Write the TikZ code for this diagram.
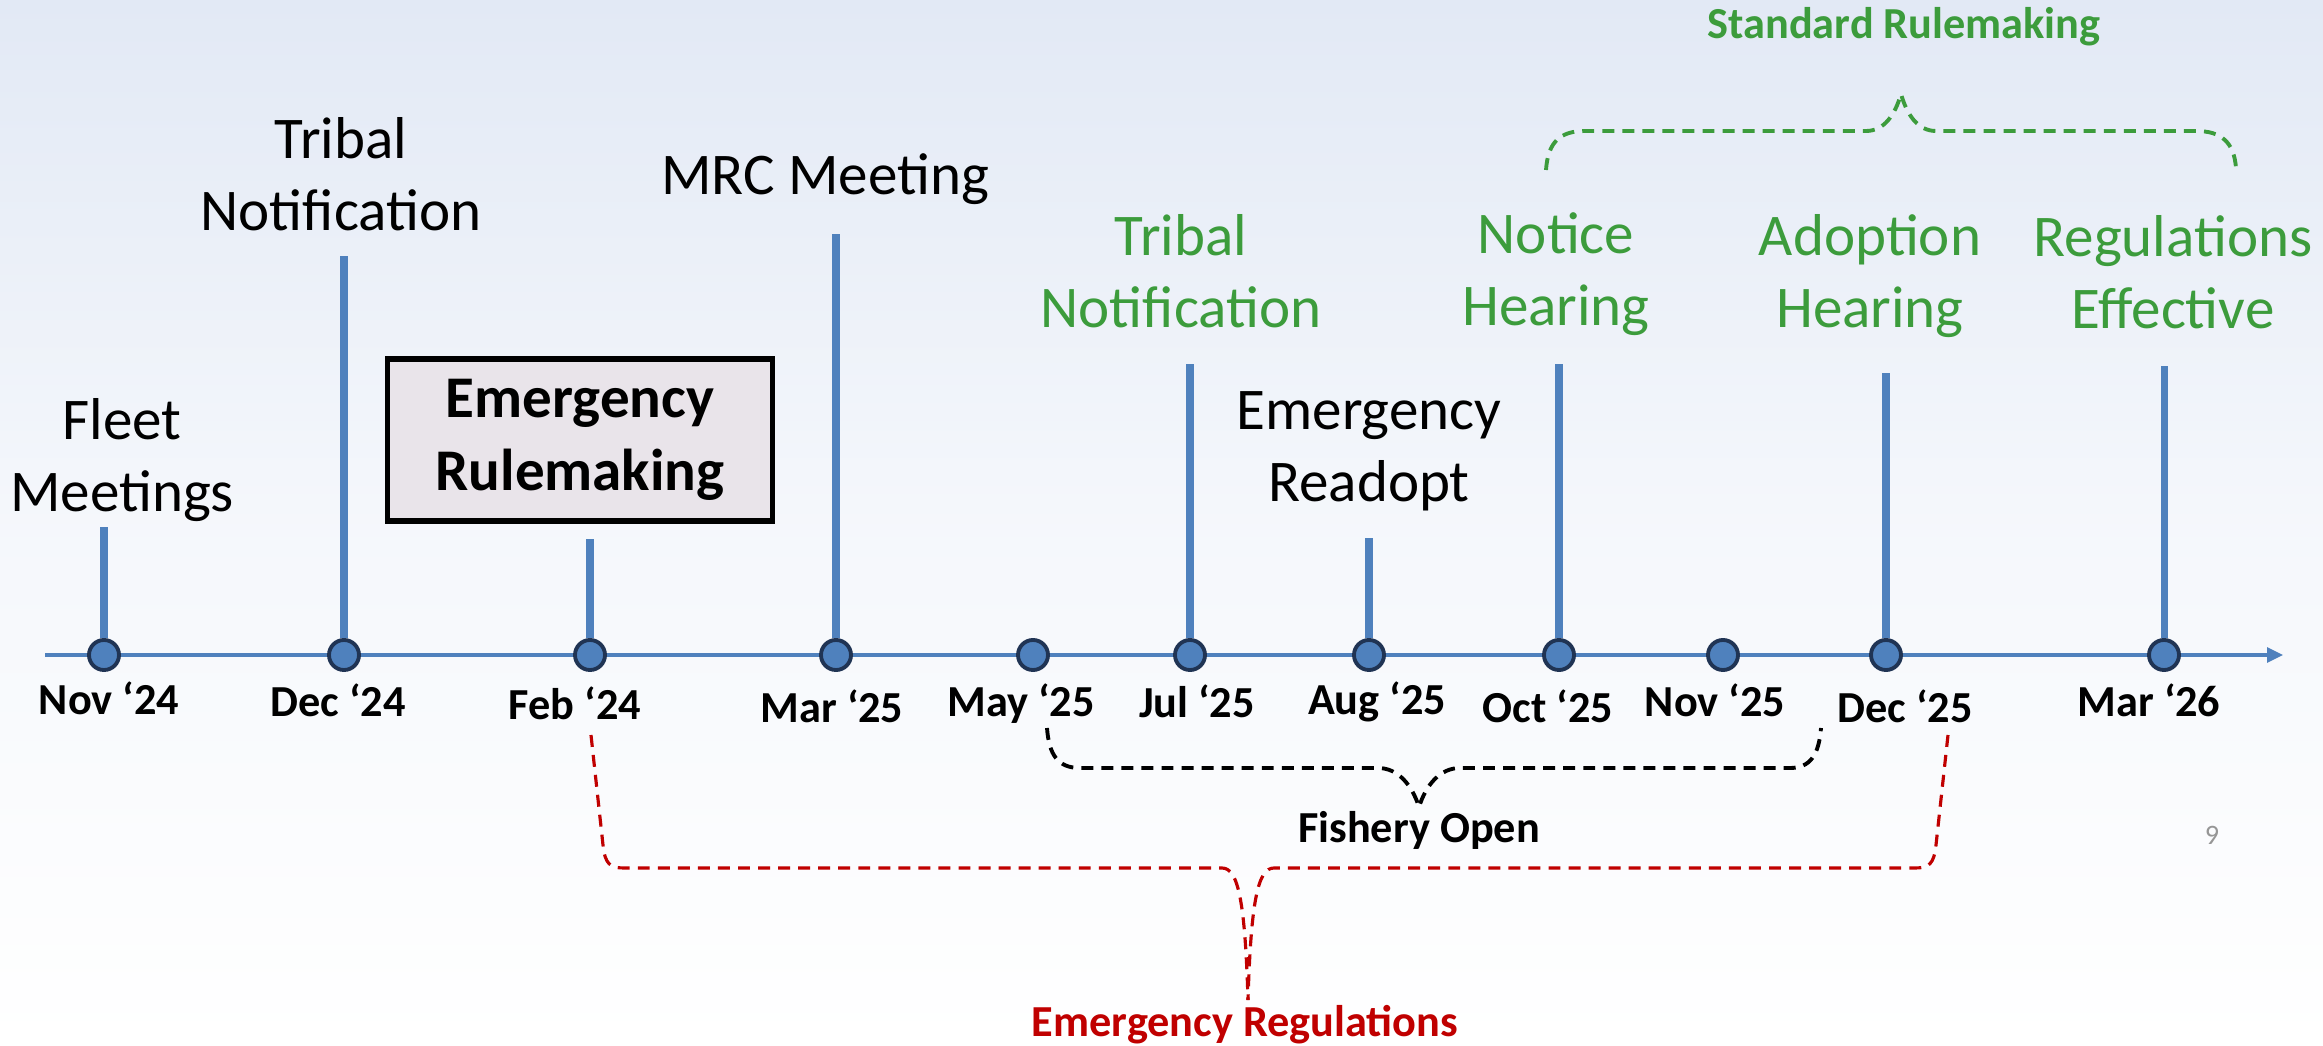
\documentclass[tikz,border=0pt]{standalone}
\usepackage{fontspec}
\setmainfont{Carlito}
\usetikzlibrary{positioning, arrows.meta}
\definecolor{tlblue}{RGB}{79,129,189}
\definecolor{dotedge}{RGB}{32,52,84}
\definecolor{stdgreen}{RGB}{60,156,60}
\definecolor{emred}{RGB}{192,0,0}
\definecolor{boxfill}{RGB}{233,228,234}
\definecolor{bgtop}{RGB}{226,233,245}
\definecolor{pagegray}{RGB}{150,150,150}
\tikzset{
x=0.01cm, y=-0.01cm, % one unit is one pixel of the slide, y runs down
milestone/.style={circle, minimum size=0.3cm, inner sep=0pt, line width=1.1pt, draw=dotedge, fill=tlblue}, % the dots on the time line
stem/.style={line width=2pt, draw=tlblue}, % the upright bars
axisline/.style={line width=0.9pt, draw=tlblue, -{Triangle[length=0.16cm, width=0.15cm]}},
datelbl/.style={anchor=base, font=\fontsize{12.6}{15}\selectfont\bfseries}, % month under a dot
eventlbl/.style={align=center, font=\fontsize{16.8}{20.5}\selectfont}, % what happens
stdlbl/.style={eventlbl, text=stdgreen}, % standard rulemaking steps
rulebox/.style={draw, line width=1.5pt, fill=boxfill, align=center, minimum width=3.85cm, minimum height=1.62cm, font=\fontsize{16.8}{20.7}\selectfont\bfseries},
bracelbl/.style={font=\fontsize{12.6}{15}\selectfont\bfseries},
bracepath/.style={dash pattern=on 3.4pt off 2.3pt, line width=1.1pt}, % the dashed curly brackets
}
\begin{document}
\begin{tikzpicture}
      % background
      \useasboundingbox (0,0) rectangle (2323,1046);
      \shade[top color=bgtop, bottom color=white, middle color=bgtop!35!white] (0,0) rectangle (2323,1046);

      % time line
      \coordinate (axstart) at (45,655);
      \coordinate (axend) at (2283,655);
      \draw[axisline] (axstart) -- (axend);

      \node[milestone] (d1) at (104,655) {};
      \node[milestone] (d2) at (344,655) {};
      \node[milestone] (d3) at (590,655) {};
      \node[milestone] (d4) at (836,655) {};
      \node[milestone] (d5) at (1033,655) {};
      \node[milestone] (d6) at (1190,655) {};
      \node[milestone] (d7) at (1369,655) {};
      \node[milestone] (d8) at (1559,655) {};
      \node[milestone] (d9) at (1723,655) {};
      \node[milestone] (d10) at (1886,655) {};
      \node[milestone] (d11) at (2164,655) {};

      \node[datelbl] (l1) at (109,715) {Nov `24};
      \node[datelbl] (l2) at (338,717) {Dec `24};
      \node[datelbl] (l3) at (575,720) {Feb `24};
      \node[datelbl] (l4) at (832,723) {Mar `25};
      \node[datelbl] (l5) at (1021,717) {May `25};
      \node[datelbl] (l6) at (1197,718) {Jul `25};
      \node[datelbl] (l7) at (1377,715) {Aug `25};
      \node[datelbl] (l8) at (1548,722) {Oct `25};
      \node[datelbl] (l9) at (1715,717) {Nov `25};
      \node[datelbl] (l10) at (1905,723) {Dec `25};
      \node[datelbl] (l11) at (2149,717) {Mar `26};

      % upright bars
      \coordinate (t1) at (104,527);
      \coordinate (t2) at (344,256);
      \coordinate (t3) at (590,539);
      \coordinate (t4) at (836,234);
      \coordinate (t6) at (1190,364);
      \coordinate (t7) at (1369,538);
      \coordinate (t8) at (1559,364);
      \coordinate (t10) at (1886,373);
      \coordinate (t11) at (2164,366);
      \draw[stem] (d1) -- (t1);
      \draw[stem] (d2) -- (t2);
      \draw[stem] (d3) -- (t3);
      \draw[stem] (d4) -- (t4);
      \draw[stem] (d6) -- (t6);
      \draw[stem] (d7) -- (t7);
      \draw[stem] (d8) -- (t8);
      \draw[stem] (d10) -- (t10);
      \draw[stem] (d11) -- (t11);

      % events
      \node[eventlbl] (fleet) at (122,460) {Fleet\\Meetings};
      \node[eventlbl] (tribal) at (341,174) {Tribal\\Notification};
      \node[eventlbl] (mrc) at (825,179) {MRC Meeting};
      \node[rulebox] (erbox) at (580,440) {Emergency\\Rulemaking};
      \node[stdlbl] (tribal2) at (1181,271) {Tribal\\Notification};
      \node[eventlbl] (readopt) at (1369,451) {Emergency\\Readopt};
      \node[stdlbl] (notice) at (1556,274) {Notice\\Hearing};
      \node[stdlbl] (adopt) at (1870,276) {Adoption\\Hearing};
      \node[stdlbl] (effective) at (2173,272) {Regulations\\Effective};

      % brackets
      \node[bracelbl, text=stdgreen] (stdrule) at (1904,27) {Standard Rulemaking};
      \draw[bracepath, stdgreen] (1546,170) .. controls (1548,142) and (1560,131) .. (1585,131) -- (1866,131)
            .. controls (1884,131) and (1895,115) .. (1901,94)
            .. controls (1907,115) and (1918,131) .. (1936,131) -- (2196,131)
            .. controls (2221,131) and (2234,142) .. (2236,168);

      \node[bracelbl] (fishery) at (1419,830) {Fishery Open};
      \draw[bracepath, black] (1047,728) .. controls (1049,755) and (1058,768) .. (1080,768) -- (1378,768)
            .. controls (1398,768) and (1412,785) .. (1419,807)
            .. controls (1426,785) and (1440,768) .. (1460,768) -- (1790,768)
            .. controls (1810,768) and (1819,755) .. (1821,728);

      \node[bracelbl, text=emred] (emreg) at (1245,1025) {Emergency Regulations};
      \draw[bracepath, emred, line width=0.9pt] (591,735) -- (603,845) .. controls (605,864) and (610,868) .. (624,868) -- (1222,868)
            .. controls (1238,868) and (1245,900) .. (1248,1000);
      \draw[bracepath, emred, line width=0.9pt] (1948,735) -- (1936,845) .. controls (1934,864) and (1929,868) .. (1915,868) -- (1274,868)
            .. controls (1258,868) and (1251,900) .. (1248,1000);

      \node[font=\fontsize{8}{10}\selectfont, text=pagegray] (pgnum) at (2212,835) {9};
\end{tikzpicture}
\end{document}
